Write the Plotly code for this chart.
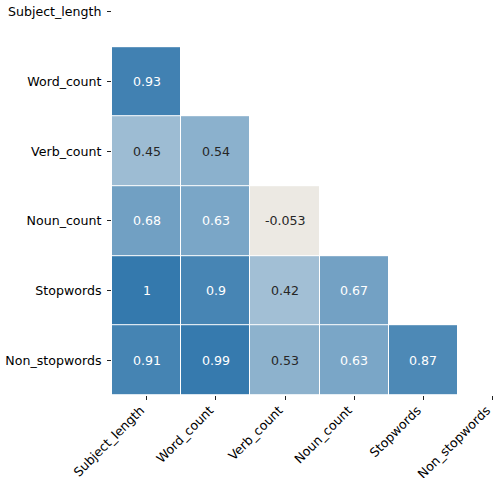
import plotly.graph_objects as go

labels = ["Subject_length", "Word_count", "Verb_count", "Noun_count", "Stopwords", "Non_stopwords"]
row_word_count = [0.93]
row_verb_count = [0.45, 0.54]
row_noun_count = [0.68, 0.63, -0.053]
row_stopwords = [1.0, 0.9, 0.42, 0.67]
row_non_stopwords = [0.91, 0.99, 0.53, 0.63, 0.87]

lower_rows = [[], row_word_count, row_verb_count, row_noun_count, row_stopwords, row_non_stopwords]
n = len(labels)
z = []
for r in range(n):
    row = list(lower_rows[r]) + [None] * (n - len(lower_rows[r]))
    z.append(row)

# colorscale (diverging, centered at 0, zmin=-1, zmax=1)
stops = [(0.0, (192, 80, 77)), (0.4735, (236, 233, 227)), (0.5, (242, 242, 242)), (1.0, (52, 121, 173))]
colorscale = [[p, "rgb(%d,%d,%d)" % c] for p, c in stops]

def color_for(v):
    t = (v + 1) / 2
    for (p0, c0), (p1, c1) in zip(stops[:-1], stops[1:]):
        if p0 <= t <= p1:
            f = (t - p0) / (p1 - p0) if p1 > p0 else 0
            return tuple(c0[i] + f * (c1[i] - c0[i]) for i in range(3))
    return stops[-1][1]

def rel_lum(c):
    out = []
    for x in c:
        x = x / 255
        out.append(x / 12.92 if x <= 0.03928 else ((x + 0.055) / 1.055) ** 2.4)
    return 0.2126 * out[0] + 0.7152 * out[1] + 0.0722 * out[2]

FS = 12.6

fig = go.Figure()
fig.add_trace(go.Heatmap(
    z=z, x=list(range(n)), y=list(range(n)),
    colorscale=colorscale, zmin=-1, zmax=1, showscale=False,
    xgap=1, ygap=1, hoverinfo="skip",
))

annotations = []
for r in range(n):
    for c, v in enumerate(lower_rows[r]):
        col = "#262626" if rel_lum(color_for(v)) > 0.408 else "#ffffff"
        annotations.append(dict(x=c, y=r, xref="x", yref="y", text=format(v, ".2g"),
                                showarrow=False, font=dict(color=col, size=FS, family="DejaVu Sans")))

fig.update_layout(
    width=494, height=478,
    margin=dict(l=112, r=0, t=0, b=83),
    paper_bgcolor="white", plot_bgcolor="white",
    font=dict(family="DejaVu Sans", size=FS, color="#000000"),
    annotations=annotations,
)
fig.update_xaxes(range=[-0.5, 5.02], tickvals=list(range(n)), ticktext=labels, tickangle=-45,
                 ticks="outside", ticklen=4, tickcolor="#222", showgrid=False, zeroline=False,
                 showline=False, automargin=False, fixedrange=True,
                 ticklabelshift=-6, ticklabelstandoff=-2)
fig.update_yaxes(range=[5.5, -0.172], tickvals=list(range(n)), ticktext=labels,
                 ticks="outside", ticklen=4, tickcolor="#222", showgrid=False, zeroline=False,
                 showline=False, automargin=False, fixedrange=True, ticklabelstandoff=3)

fig.write_html("out.html", config={"displayModeBar": False},
               post_script="document.body.style.margin='0';document.body.style.overflow='hidden';")
